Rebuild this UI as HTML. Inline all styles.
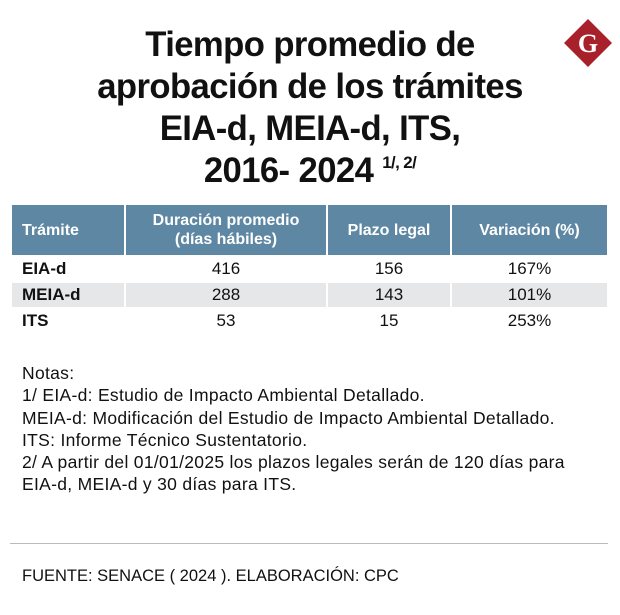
<!DOCTYPE html>
<html><head><meta charset="utf-8"><style>
body{margin:0;width:620px;height:615px;background:#fff;font-family:"Liberation Sans",sans-serif;color:#111;position:relative;overflow:hidden}
.t{position:absolute;left:0;width:620px;text-align:center;font-weight:bold;font-size:35px;letter-spacing:-0.6px;line-height:42px;top:24px}
.t div{transform:scaleX(0.99);height:42px}
table{position:absolute;left:12px;top:203px;width:599px;border-collapse:separate;border-spacing:2px 2px;margin-left:-2px;font-size:17px}
th{background:#5d87a3;color:#fff;font-size:16px;height:48px;line-height:19px;font-weight:bold}
th:first-child{text-align:left;padding-left:10px}
td{height:24px;text-align:center;padding:0}
td:first-child{text-align:left;font-weight:bold;padding-left:10px}
tr.g td{background:#e6e7e9}
.n{position:absolute;left:22px;top:362px;font-size:17.5px;letter-spacing:0.3px;line-height:22.3px}
.hr{position:absolute;left:10px;top:543px;width:598px;height:1px;background:#bbb}
.f{position:absolute;left:22px;top:567px;font-size:16.5px}
</style></head><body>
<div class="t"><div>Tiempo promedio de</div><div>aprobación de los trámites</div><div>EIA-d, MEIA-d, ITS,</div><div>2016- 2024 <sup style="font-size:17px;line-height:0;vertical-align:14px">1/, 2/</sup></div></div>
<svg style="position:absolute;left:563px;top:18px" width="50" height="50"><polygon points="25,1 49,25 25,49 1,25" fill="#a8202a"/><text x="25" y="34" text-anchor="middle" font-family="Liberation Serif,serif" font-weight="bold" font-size="26" fill="#fff">G</text></svg>
<table>
<tr><th style="width:101px">Trámite</th><th style="width:198px">Duración promedio<br>(días hábiles)</th><th style="width:120px">Plazo legal</th><th>Variación (%)</th></tr>
<tr><td>EIA-d</td><td>416</td><td>156</td><td>167%</td></tr>
<tr class="g"><td>MEIA-d</td><td>288</td><td>143</td><td>101%</td></tr>
<tr><td>ITS</td><td>53</td><td>15</td><td>253%</td></tr>
</table>
<div class="n">Notas:<br>1/ EIA-d: Estudio de Impacto Ambiental Detallado.<br>MEIA-d: Modificación del Estudio de Impacto Ambiental Detallado.<br>ITS: Informe Técnico Sustentatorio.<br>2/ A partir del 01/01/2025 los plazos legales serán de 120 días para<br>EIA-d, MEIA-d y 30 días para ITS.</div>
<div class="hr"></div>
<div class="f">FUENTE: SENACE ( 2024 ). ELABORACIÓN: CPC</div>
</body></html>
